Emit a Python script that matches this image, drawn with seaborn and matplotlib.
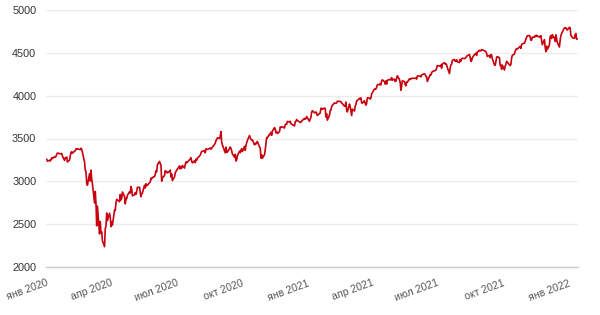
import matplotlib
matplotlib.use("Agg")
import matplotlib.pyplot as plt
import seaborn as sns
import pandas as pd

dates_2020 = [
 "2020-01-02","2020-01-03","2020-01-06","2020-01-07","2020-01-08","2020-01-09","2020-01-10","2020-01-13","2020-01-14","2020-01-15","2020-01-16","2020-01-17","2020-01-21","2020-01-22","2020-01-23","2020-01-24","2020-01-27","2020-01-28","2020-01-29","2020-01-30","2020-01-31",
 "2020-02-03","2020-02-04","2020-02-05","2020-02-06","2020-02-07","2020-02-10","2020-02-11","2020-02-12","2020-02-13","2020-02-14","2020-02-18","2020-02-19","2020-02-20","2020-02-21","2020-02-24","2020-02-25","2020-02-26","2020-02-27","2020-02-28",
 "2020-03-02","2020-03-03","2020-03-04","2020-03-05","2020-03-06","2020-03-09","2020-03-10","2020-03-11","2020-03-12","2020-03-13","2020-03-16","2020-03-17","2020-03-18","2020-03-19","2020-03-20","2020-03-23","2020-03-24","2020-03-25","2020-03-26","2020-03-27","2020-03-30","2020-03-31",
 "2020-04-01","2020-04-02","2020-04-03","2020-04-06","2020-04-07","2020-04-08","2020-04-09","2020-04-13","2020-04-14","2020-04-15","2020-04-16","2020-04-17","2020-04-20","2020-04-21","2020-04-22","2020-04-23","2020-04-24","2020-04-27","2020-04-28","2020-04-29","2020-04-30",
 "2020-05-01","2020-05-04","2020-05-05","2020-05-06","2020-05-07","2020-05-08","2020-05-11","2020-05-12","2020-05-13","2020-05-14","2020-05-15","2020-05-18","2020-05-19","2020-05-20","2020-05-21","2020-05-22","2020-05-26","2020-05-27","2020-05-28","2020-05-29",
 "2020-06-01","2020-06-02","2020-06-03","2020-06-04","2020-06-05","2020-06-08","2020-06-09","2020-06-10","2020-06-11","2020-06-12","2020-06-15","2020-06-16","2020-06-17","2020-06-18","2020-06-19","2020-06-22","2020-06-23","2020-06-24","2020-06-25","2020-06-26","2020-06-29","2020-06-30",
 "2020-07-01","2020-07-02","2020-07-06","2020-07-07","2020-07-08","2020-07-09","2020-07-10","2020-07-13","2020-07-14","2020-07-15","2020-07-16","2020-07-17","2020-07-20","2020-07-21","2020-07-22","2020-07-23","2020-07-24","2020-07-27","2020-07-28","2020-07-29","2020-07-30","2020-07-31",
 "2020-08-03","2020-08-04","2020-08-05","2020-08-06","2020-08-07","2020-08-10","2020-08-11","2020-08-12","2020-08-13","2020-08-14","2020-08-17","2020-08-18","2020-08-19","2020-08-20","2020-08-21","2020-08-24","2020-08-25","2020-08-26","2020-08-27","2020-08-28","2020-08-31",
 "2020-09-01","2020-09-02","2020-09-03","2020-09-04","2020-09-08","2020-09-09","2020-09-10","2020-09-11","2020-09-14","2020-09-15","2020-09-16","2020-09-17","2020-09-18","2020-09-21","2020-09-22","2020-09-23","2020-09-24","2020-09-25","2020-09-28","2020-09-29","2020-09-30",
 "2020-10-01","2020-10-02","2020-10-05","2020-10-06","2020-10-07","2020-10-08","2020-10-09","2020-10-12","2020-10-13","2020-10-14","2020-10-15","2020-10-16","2020-10-19","2020-10-20","2020-10-21","2020-10-22","2020-10-23","2020-10-26","2020-10-27","2020-10-28","2020-10-29","2020-10-30",
 "2020-11-02","2020-11-03","2020-11-04","2020-11-05","2020-11-06","2020-11-09","2020-11-10","2020-11-11","2020-11-12","2020-11-13","2020-11-16","2020-11-17","2020-11-18","2020-11-19","2020-11-20","2020-11-23","2020-11-24","2020-11-25","2020-11-27","2020-11-30",
 "2020-12-01","2020-12-02","2020-12-03","2020-12-04","2020-12-07","2020-12-08","2020-12-09","2020-12-10","2020-12-11","2020-12-14","2020-12-15","2020-12-16","2020-12-17","2020-12-18","2020-12-21","2020-12-22","2020-12-23","2020-12-24","2020-12-28","2020-12-29","2020-12-30","2020-12-31",
]
values_2020 = [
 3258,3235,3246,3237,3253,3275,3265,3288,3283,3289,3317,3330,3321,3322,3326,3295,3244,3276,3273,3284,3226,
 3249,3298,3335,3346,3328,3352,3358,3379,3374,3380,3370,3386,3373,3338,3226,3128,3116,2979,2954,
 3090,3003,3130,3024,2972,2747,2882,2741,2481,2711,2386,2529,2398,2409,2305,2237,2447,2476,2630,2541,2627,2585,
 2471,2527,2489,2664,2659,2750,2790,2762,2846,2783,2800,2875,2823,2737,2799,2798,2837,2878,2863,2940,2912,
 2831,2843,2868,2848,2881,2930,2930,2870,2820,2853,2864,2954,2923,2972,2949,2955,2992,3036,3030,3044,
 3056,3081,3123,3112,3194,3232,3207,3190,3002,3041,3067,3125,3113,3115,3098,3118,3131,3050,3084,3009,3053,3100,
 3116,3130,3180,3145,3170,3152,3185,3155,3198,3227,3216,3225,3252,3257,3276,3236,3216,3239,3218,3258,3246,3271,
 3295,3307,3328,3349,3351,3360,3334,3380,3373,3373,3382,3390,3375,3386,3397,3431,3444,3479,3485,3508,3500,
 3527,3581,3455,3427,3332,3399,3339,3341,3384,3401,3385,3357,3319,3281,3316,3237,3247,3298,3352,3335,3363,
 3381,3348,3409,3361,3419,3447,3477,3534,3512,3489,3483,3484,3427,3443,3436,3453,3465,3401,3391,3271,3310,3270,
 3310,3369,3443,3510,3509,3550,3546,3573,3537,3585,3627,3610,3568,3582,3558,3578,3635,3630,3638,3622,
 3662,3669,3667,3699,3692,3702,3673,3668,3663,3647,3695,3701,3722,3709,3695,3687,3690,3703,3735,3727,3732,3756,
]

dates_2021 = [
 "2021-01-04","2021-01-05","2021-01-06","2021-01-07","2021-01-08","2021-01-11","2021-01-12","2021-01-13","2021-01-14","2021-01-15","2021-01-19","2021-01-20","2021-01-21","2021-01-22","2021-01-25","2021-01-26","2021-01-27","2021-01-28","2021-01-29",
 "2021-02-01","2021-02-02","2021-02-03","2021-02-04","2021-02-05","2021-02-08","2021-02-09","2021-02-10","2021-02-11","2021-02-12","2021-02-16","2021-02-17","2021-02-18","2021-02-19","2021-02-22","2021-02-23","2021-02-24","2021-02-25","2021-02-26",
 "2021-03-01","2021-03-02","2021-03-03","2021-03-04","2021-03-05","2021-03-08","2021-03-09","2021-03-10","2021-03-11","2021-03-12","2021-03-15","2021-03-16","2021-03-17","2021-03-18","2021-03-19","2021-03-22","2021-03-23","2021-03-24","2021-03-25","2021-03-26","2021-03-29","2021-03-30","2021-03-31",
 "2021-04-01","2021-04-05","2021-04-06","2021-04-07","2021-04-08","2021-04-09","2021-04-12","2021-04-13","2021-04-14","2021-04-15","2021-04-16","2021-04-19","2021-04-20","2021-04-21","2021-04-22","2021-04-23","2021-04-26","2021-04-27","2021-04-28","2021-04-29","2021-04-30",
 "2021-05-03","2021-05-04","2021-05-05","2021-05-06","2021-05-07","2021-05-10","2021-05-11","2021-05-12","2021-05-13","2021-05-14","2021-05-17","2021-05-18","2021-05-19","2021-05-20","2021-05-21","2021-05-24","2021-05-25","2021-05-26","2021-05-27","2021-05-28",
 "2021-06-01","2021-06-02","2021-06-03","2021-06-04","2021-06-07","2021-06-08","2021-06-09","2021-06-10","2021-06-11","2021-06-14","2021-06-15","2021-06-16","2021-06-17","2021-06-18","2021-06-21","2021-06-22","2021-06-23","2021-06-24","2021-06-25","2021-06-28","2021-06-29","2021-06-30",
 "2021-07-01","2021-07-02","2021-07-06","2021-07-07","2021-07-08","2021-07-09","2021-07-12","2021-07-13","2021-07-14","2021-07-15","2021-07-16","2021-07-19","2021-07-20","2021-07-21","2021-07-22","2021-07-23","2021-07-26","2021-07-27","2021-07-28","2021-07-29","2021-07-30",
 "2021-08-02","2021-08-03","2021-08-04","2021-08-05","2021-08-06","2021-08-09","2021-08-10","2021-08-11","2021-08-12","2021-08-13","2021-08-16","2021-08-17","2021-08-18","2021-08-19","2021-08-20","2021-08-23","2021-08-24","2021-08-25","2021-08-26","2021-08-27","2021-08-30","2021-08-31",
 "2021-09-01","2021-09-02","2021-09-03","2021-09-07","2021-09-08","2021-09-09","2021-09-10","2021-09-13","2021-09-14","2021-09-15","2021-09-16","2021-09-17","2021-09-20","2021-09-21","2021-09-22","2021-09-23","2021-09-24","2021-09-27","2021-09-28","2021-09-29","2021-09-30",
 "2021-10-01","2021-10-04","2021-10-05","2021-10-06","2021-10-07","2021-10-08","2021-10-11","2021-10-12","2021-10-13","2021-10-14","2021-10-15","2021-10-18","2021-10-19","2021-10-20","2021-10-21","2021-10-22","2021-10-25","2021-10-26","2021-10-27","2021-10-28","2021-10-29",
 "2021-11-01","2021-11-02","2021-11-03","2021-11-04","2021-11-05","2021-11-08","2021-11-09","2021-11-10","2021-11-11","2021-11-12","2021-11-15","2021-11-16","2021-11-17","2021-11-18","2021-11-19","2021-11-22","2021-11-23","2021-11-24","2021-11-26","2021-11-29","2021-11-30",
 "2021-12-01","2021-12-02","2021-12-03","2021-12-06","2021-12-07","2021-12-08","2021-12-09","2021-12-10","2021-12-13","2021-12-14","2021-12-15","2021-12-16","2021-12-17","2021-12-20","2021-12-21","2021-12-22","2021-12-23","2021-12-27","2021-12-28","2021-12-29","2021-12-30","2021-12-31",
]
values_2021 = [
 3701,3727,3748,3804,3825,3800,3801,3810,3796,3768,3799,3852,3853,3841,3855,3850,3751,3787,3714,
 3774,3826,3830,3872,3887,3916,3911,3910,3916,3935,3933,3931,3914,3907,3877,3881,3925,3829,3811,
 3902,3870,3820,3768,3842,3821,3875,3899,3939,3943,3969,3963,3974,3915,3913,3941,3911,3889,3910,3975,3971,3959,3973,
 4020,4078,4074,4080,4097,4129,4128,4142,4125,4170,4185,4163,4135,4173,4135,4180,4188,4187,4183,4211,4181,
 4193,4165,4168,4202,4233,4188,4152,4063,4113,4174,4163,4128,4116,4159,4156,4197,4188,4196,4201,4204,
 4202,4208,4193,4230,4227,4227,4220,4239,4247,4255,4247,4224,4222,4166,4225,4246,4242,4266,4281,4291,4292,4298,
 4320,4352,4344,4358,4321,4370,4385,4369,4374,4360,4327,4258,4323,4359,4367,4412,4422,4401,4401,4419,4395,
 4387,4423,4403,4429,4437,4432,4437,4448,4461,4468,4480,4448,4400,4406,4442,4480,4486,4496,4470,4509,4529,4523,
 4524,4537,4535,4520,4514,4493,4459,4469,4443,4481,4474,4433,4358,4354,4396,4449,4455,4443,4353,4359,4308,
 4357,4300,4346,4364,4400,4391,4361,4351,4364,4438,4471,4486,4520,4536,4550,4545,4566,4575,4552,4596,4605,
 4614,4631,4661,4680,4698,4702,4685,4647,4649,4683,4683,4701,4689,4705,4698,4683,4691,4701,4595,4655,4567,
 4513,4577,4538,4592,4687,4701,4667,4712,4669,4634,4710,4669,4621,4568,4649,4697,4726,4791,4786,4793,4779,4766,
]

dates_2022 = ["2022-01-03","2022-01-04","2022-01-05","2022-01-06","2022-01-07","2022-01-10","2022-01-11","2022-01-12","2022-01-13","2022-01-14"]
values_2022 = [4797,4794,4701,4696,4677,4670,4713,4726,4659,4663]

tick_dates = ["2020-01-01","2020-04-01","2020-07-01","2020-10-01","2021-01-01","2021-04-01","2021-07-01","2021-10-01","2022-01-01"]
tick_labels = ["янв 2020","апр 2020","июл 2020","окт 2020","янв 2021","апр 2021","июл 2021","окт 2021","янв 2022"]
y_ticks = [2000, 2500, 3000, 3500, 4000, 4500, 5000]

df = pd.DataFrame({
    "date": pd.to_datetime(dates_2020 + dates_2021 + dates_2022),
    "value": values_2020 + values_2021 + values_2022,
})

sns.set_style("white")
plt.rcParams["font.family"] = ["Liberation Sans", "DejaVu Sans"]

fig = plt.figure(figsize=(6, 3.15), dpi=100)
ax = fig.add_axes([46/600, 1 - 267/315, (578 - 46)/600, (267 - 10)/315])

sns.lineplot(data=df, x="date", y="value", ax=ax, color="#c8000e", linewidth=1.2)

ax.set_xlim(pd.Timestamp("2020-01-01"), pd.Timestamp("2022-01-15"))
ax.set_ylim(2000, 5000)
ax.set_yticks(y_ticks)
ax.set_yticklabels([str(v) for v in y_ticks], fontsize=7.8, color="#333333")
ax.yaxis.grid(True, color="#ececec", linewidth=1)
ax.xaxis.grid(False)
ax.set_axisbelow(True)

ax.set_xticks(pd.to_datetime(tick_dates))
ax.set_xticklabels(tick_labels, fontsize=7.6, color="#555555", rotation=20,
                   ha="right", va="top", rotation_mode="anchor")
ax.tick_params(axis="x", length=4, width=1, color="#cccccc", pad=4)
ax.tick_params(axis="y", length=0, pad=7)

for s in ["top", "right", "left"]:
    ax.spines[s].set_visible(False)
ax.spines["bottom"].set_color("#cccccc")
ax.spines["bottom"].set_linewidth(1)
ax.set_xlabel("")
ax.set_ylabel("")

fig.savefig("out.png", dpi=100, facecolor="white")
